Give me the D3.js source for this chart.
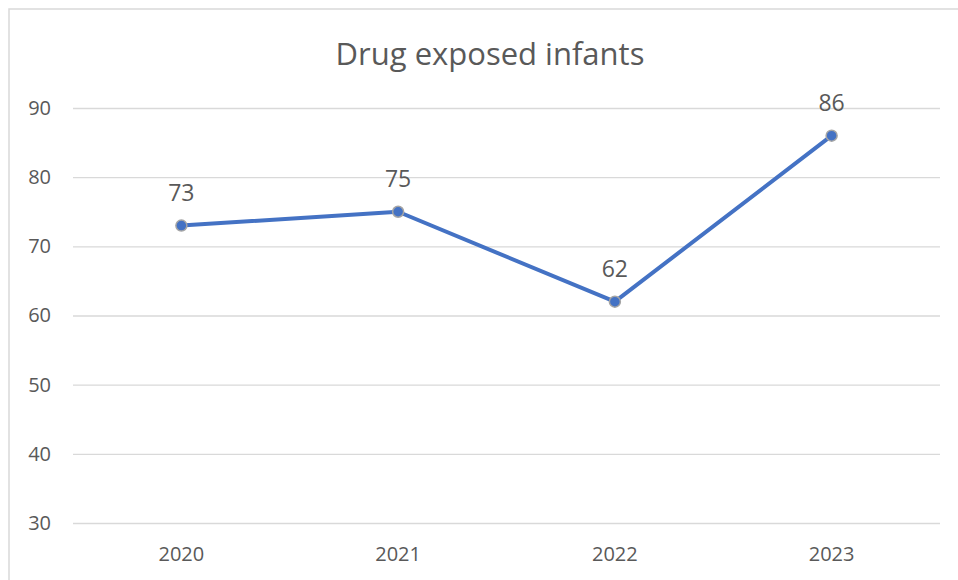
<!DOCTYPE html>
<html><head><meta charset="utf-8">
<script src="https://cdn.jsdelivr.net/npm/d3@7"></script>
<style>body{margin:0;background:#fff}svg{display:block}text{font-family:"Open Sans","Noto Sans",sans-serif;fill:#595959}</style>
</head><body>
<svg id="c" width="958" height="580"></svg>
<script>
const title = "Drug exposed infants";
const categories = ["2020","2021","2022","2023"];
const values = [73,75,62,86];
const yTicks = [30,40,50,60,70,80,90];

(function(){
const svg = d3.select("#c");
svg.append("rect").attr("x",9).attr("y",9).attr("width",960).attr("height",600)
  .attr("fill","#fff").attr("stroke","#d9d9d9").attr("stroke-width",1.5);

const pl=73, pr=940, pt=108, pb=523;
const x = d3.scaleBand().domain(categories).range([pl,pr]);
const y = d3.scaleLinear().domain([30,90]).range([pb,pt]);

svg.append("text").attr("x",490).attr("y",65).attr("text-anchor","middle")
  .style("font-size","31px").text(title);

const ga = svg.append("g").attr("transform",`translate(${pl},0)`)
  .call(d3.axisLeft(y).tickValues(yTicks).tickSize(-(pr-pl)).tickPadding(22));
ga.select(".domain").remove();
ga.selectAll(".tick line").attr("stroke","#d9d9d9").attr("stroke-width",1.3);
ga.selectAll(".tick text").style("font-size","20px").attr("fill","#595959");

const gx = svg.append("g").attr("transform",`translate(0,${pb})`)
  .call(d3.axisBottom(x).tickSize(0).tickPadding(24));
gx.select(".domain").remove();
gx.selectAll(".tick text").style("font-size","20px").attr("fill","#595959");

const cx = d => x(d)+x.bandwidth()/2;
const line = d3.line().x((d,i)=>cx(categories[i])).y(d=>y(d));
svg.append("path").datum(values).attr("d",line).attr("fill","none")
  .attr("stroke","#4472C4").attr("stroke-width",4).attr("stroke-linejoin","round");
svg.selectAll("circle.pt").data(values).join("circle").attr("class","pt")
  .attr("cx",(d,i)=>cx(categories[i])).attr("cy",d=>y(d)).attr("r",5.5)
  .attr("fill","#4472C4").attr("stroke","#a5a5a5").attr("stroke-width",1.5);
svg.selectAll("text.lbl").data(values).join("text").attr("class","lbl")
  .attr("x",(d,i)=>cx(categories[i])).attr("y",d=>y(d)-25).attr("text-anchor","middle")
  .style("font-size","23px").attr("fill","#404040").text(d=>d);
})();
</script>
</body></html>
